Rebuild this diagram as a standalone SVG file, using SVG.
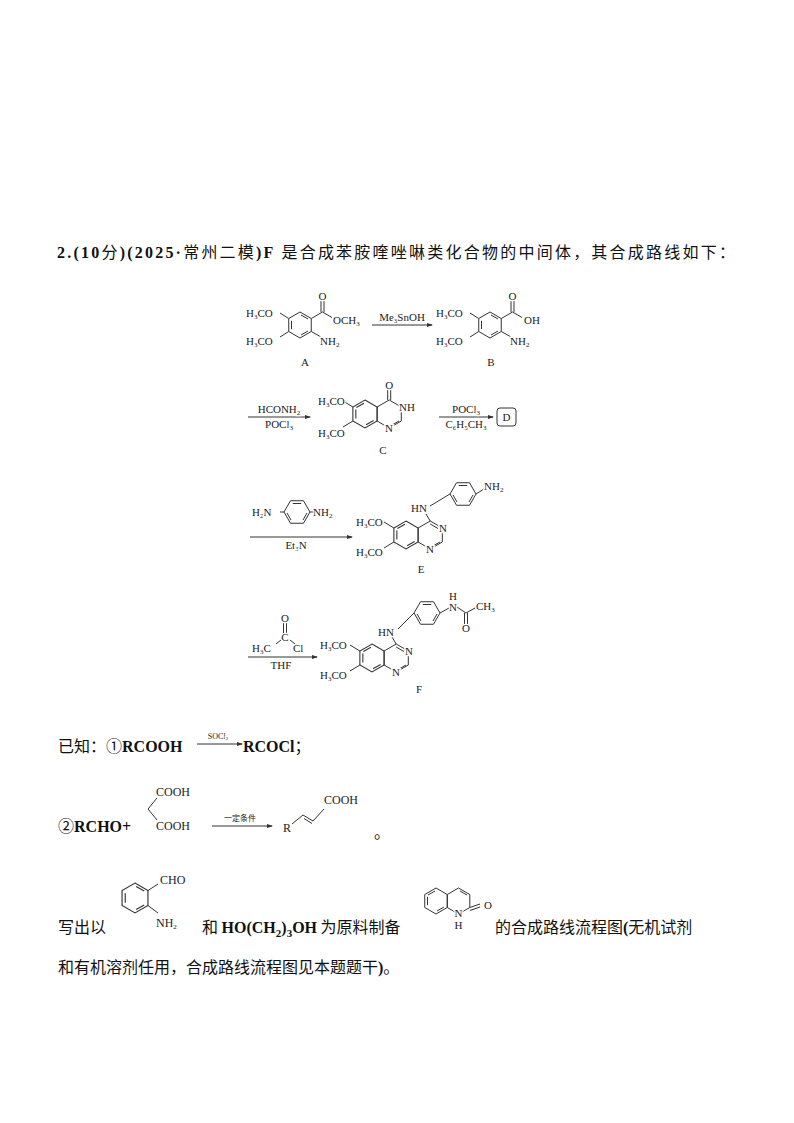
<svg xmlns="http://www.w3.org/2000/svg" xmlns:xlink="http://www.w3.org/1999/xlink" width="794" height="1123" viewBox="0 0 794 1123">
<style>
.s{font-family:"Liberation Serif","Noto Sans CJK SC",serif;font-size:11px;fill:#222;stroke:#fff;stroke-width:2.5px;paint-order:stroke}
.m{font-family:"Liberation Serif","Noto Sans CJK SC",serif;font-size:16px;fill:#111}
.b{font-weight:bold}
.c{font-family:"Noto Sans CJK SC",sans-serif}
.sub{font-size:7px}
line,polyline,polygon{stroke:#333;stroke-width:1;fill:none}
</style>
<defs>
<marker id="ar" markerWidth="6" markerHeight="4" refX="5" refY="2" orient="auto" markerUnits="userSpaceOnUse"><path d="M0,0 L6,2 L0,4z" fill="#333"/></marker>
<g id="ring"><polygon points="0,-13 11.26,-6.5 11.26,6.5 0,13 -11.26,6.5 -11.26,-6.5"/><line x1="-8.5" y1="-4.2" x2="-8.5" y2="4.2"/><line x1="1" y1="-10" x2="8" y2="-6"/><line x1="8" y1="6" x2="1" y2="10"/></g>
<g id="ringL"><polygon points="0,-13 11.26,-6.5 11.26,6.5 0,13 -11.26,6.5 -11.26,-6.5"/><line x1="-8.5" y1="-4.2" x2="-8.5" y2="4.2"/><line x1="-1" y1="-10" x2="-8" y2="-6"/><line x1="8" y1="6" x2="1" y2="10"/></g>
</defs>
<text class="m" x="57" y="258" textLength="678"><tspan class="b">2.(10</tspan><tspan class="c">分</tspan><tspan class="b">)(2025·</tspan><tspan class="c">常州二模</tspan><tspan class="b">)F</tspan><tspan class="c"> 是合成苯胺喹唑啉类化合物的中间体，其合成路线如下：</tspan></text>

<g id="A">
<use xlink:href="#ring" transform="translate(300,325)"/>
<polyline points="311.3,318.5 322.5,312 332,317.5"/><line x1="321" y1="312" x2="321" y2="301"/><line x1="324" y1="312" x2="324" y2="301"/>
<line x1="311.3" y1="331.5" x2="321" y2="337"/><line x1="288.7" y1="318.5" x2="280" y2="313"/><line x1="288.7" y1="331.5" x2="280" y2="337"/>
<text class="s" x="322.5" y="300" text-anchor="middle">O</text>
<text class="s" x="333" y="324">OCH<tspan class="sub" dy="2">3</tspan></text>
<text class="s" x="320" y="345">NH<tspan class="sub" dy="2">2</tspan></text>
<text class="s" x="246" y="317">H<tspan class="sub" dy="2">3</tspan><tspan dy="-2">CO</tspan></text>
<text class="s" x="246" y="345">H<tspan class="sub" dy="2">3</tspan><tspan dy="-2">CO</tspan></text>
<text class="s" x="305" y="366" text-anchor="middle">A</text>
</g>
<g id="B">
<use xlink:href="#ring" transform="translate(490,325)"/>
<polyline points="501.3,318.5 512.5,312 522,317.5"/><line x1="511" y1="312" x2="511" y2="301"/><line x1="514" y1="312" x2="514" y2="301"/>
<line x1="501.3" y1="331.5" x2="511" y2="337"/><line x1="478.7" y1="318.5" x2="470" y2="313"/><line x1="478.7" y1="331.5" x2="470" y2="337"/>
<text class="s" x="512.5" y="300" text-anchor="middle">O</text>
<text class="s" x="524" y="324">OH</text>
<text class="s" x="510" y="345">NH<tspan class="sub" dy="2">2</tspan></text>
<text class="s" x="436" y="317">H<tspan class="sub" dy="2">3</tspan><tspan dy="-2">CO</tspan></text>
<text class="s" x="436" y="345">H<tspan class="sub" dy="2">3</tspan><tspan dy="-2">CO</tspan></text>
<text class="s" x="491" y="366" text-anchor="middle">B</text>
</g>
<g id="C">
<use xlink:href="#ringL" transform="translate(365,414) scale(1.077)"/>
<polygon points="389.2,400 401.3,407 401.3,421 389.2,428 377.1,421 377.1,407"/><line x1="392" y1="425" x2="399" y2="421"/>
<line x1="387.7" y1="400" x2="387.7" y2="389"/><line x1="390.7" y1="400" x2="390.7" y2="389"/>
<line x1="352.9" y1="407" x2="343" y2="401"/><line x1="352.9" y1="421" x2="343" y2="427"/>
<text class="s" x="389.2" y="389" text-anchor="middle">O</text>
<text class="s" x="399" y="411">NH</text>
<text class="s" x="389" y="432" text-anchor="middle">N</text>
<text class="s" x="318" y="405">H<tspan class="sub" dy="2">3</tspan><tspan dy="-2">CO</tspan></text>
<text class="s" x="318" y="437">H<tspan class="sub" dy="2">3</tspan><tspan dy="-2">CO</tspan></text>
<text class="s" x="383" y="454" text-anchor="middle">C</text>
</g>
<g id="D"><rect x="497" y="408" width="19" height="18" rx="3" fill="none" stroke="#333"/><text class="s" x="506.5" y="421" text-anchor="middle">D</text></g>
<g id="diamine">
<use xlink:href="#ring" transform="translate(297,512) rotate(90)"/>
<line x1="284" y1="512" x2="280" y2="512"/><line x1="310" y1="512" x2="314" y2="512"/>
<text class="s" x="252" y="516">H<tspan class="sub" dy="2">2</tspan><tspan dy="-2">N</tspan></text>
<text class="s" x="313" y="516">NH<tspan class="sub" dy="2">2</tspan></text>
</g>
<g id="E">
<use xlink:href="#ringL" transform="translate(406,535) scale(1.077)"/>
<polygon points="430.2,521 442.3,528 442.3,542 430.2,549 418.1,542 418.1,528"/><line x1="433" y1="546" x2="440" y2="542"/><line x1="430.2" y1="524" x2="438" y2="528.5"/>
<line x1="430.2" y1="521" x2="426" y2="514"/><line x1="430" y1="506" x2="450" y2="494"/>
<use xlink:href="#ring" transform="translate(463,494) rotate(90)"/>
<line x1="476" y1="494" x2="484" y2="489"/>
<line x1="393.9" y1="528" x2="384" y2="522"/><line x1="393.9" y1="542" x2="384" y2="548"/>
<text class="s" x="411" y="512">HN</text>
<text class="s" x="484" y="490">NH<tspan class="sub" dy="2">2</tspan></text>
<text class="s" x="443" y="532" text-anchor="middle">N</text>
<text class="s" x="430" y="553" text-anchor="middle">N</text>
<text class="s" x="356" y="526">H<tspan class="sub" dy="2">3</tspan><tspan dy="-2">CO</tspan></text>
<text class="s" x="356" y="556">H<tspan class="sub" dy="2">3</tspan><tspan dy="-2">CO</tspan></text>
<text class="s" x="421" y="573" text-anchor="middle">E</text>
</g>
<g id="acCl">
<line x1="283.5" y1="633" x2="283.5" y2="622"/><line x1="286.5" y1="633" x2="286.5" y2="622"/>
<line x1="281" y1="640" x2="276" y2="644"/><line x1="290" y1="640" x2="295" y2="644"/>
<text class="s" x="285" y="622" text-anchor="middle">O</text>
<text class="s" x="285" y="641" text-anchor="middle">C</text>
<text class="s" x="252" y="652">H<tspan class="sub" dy="2">3</tspan><tspan dy="-2">C</tspan></text>
<text class="s" x="293" y="652">Cl</text>
</g>
<g id="F">
<use xlink:href="#ringL" transform="translate(372,658) scale(1.077)"/>
<polygon points="396.2,644 408.3,651 408.3,665 396.2,672 384.1,665 384.1,651"/><line x1="399" y1="669" x2="406" y2="665"/><line x1="396.2" y1="647" x2="404" y2="651.5"/>
<line x1="396.2" y1="644" x2="392" y2="637"/><line x1="398" y1="629" x2="414" y2="613"/>
<use xlink:href="#ring" transform="translate(427,613) rotate(90)"/>
<line x1="440" y1="613" x2="449" y2="608"/><polyline points="457,607 466,613 475,608"/>
<line x1="464.5" y1="613" x2="464.5" y2="624"/><line x1="467.5" y1="613" x2="467.5" y2="624"/>
<line x1="359.9" y1="651" x2="350" y2="645"/><line x1="359.9" y1="665" x2="350" y2="671"/>
<text class="s" x="378" y="636">HN</text>
<text class="s" x="453" y="611" text-anchor="middle">N</text>
<text class="s" x="453" y="600" text-anchor="middle">H</text>
<text class="s" x="476" y="610">CH<tspan class="sub" dy="2">3</tspan></text>
<text class="s" x="466" y="632" text-anchor="middle">O</text>
<text class="s" x="409" y="655" text-anchor="middle">N</text>
<text class="s" x="396" y="676" text-anchor="middle">N</text>
<text class="s" x="320" y="649">H<tspan class="sub" dy="2">3</tspan><tspan dy="-2">CO</tspan></text>
<text class="s" x="320" y="679">H<tspan class="sub" dy="2">3</tspan><tspan dy="-2">CO</tspan></text>
<text class="s" x="419" y="693" text-anchor="middle">F</text>
</g>

<g id="connectors">
<line x1="372" y1="325" x2="432" y2="325" marker-end="url(#ar)"/>
<line x1="248" y1="417" x2="310" y2="417" marker-end="url(#ar)"/>
<line x1="439" y1="417" x2="493" y2="417" marker-end="url(#ar)"/>
<line x1="250" y1="537" x2="352" y2="537" marker-end="url(#ar)"/>
<line x1="248" y1="657" x2="317" y2="657" marker-end="url(#ar)"/>
<line x1="197" y1="744" x2="242" y2="744" marker-end="url(#ar)"/>
<line x1="212" y1="826" x2="272" y2="826" marker-end="url(#ar)"/>
</g>
<g id="labels">
<text class="s" x="402" y="321" text-anchor="middle">Me<tspan class="sub" dy="2">3</tspan><tspan dy="-2">SnOH</tspan></text>
<text class="s" x="279" y="413" text-anchor="middle">HCONH<tspan class="sub" dy="2">2</tspan></text>
<text class="s" x="279" y="428" text-anchor="middle">POCl<tspan class="sub" dy="2">3</tspan></text>
<text class="s" x="466" y="413" text-anchor="middle">POCl<tspan class="sub" dy="2">3</tspan></text>
<text class="s" x="466" y="428" text-anchor="middle">C<tspan class="sub" dy="2">6</tspan><tspan dy="-2">H</tspan><tspan class="sub" dy="2">5</tspan><tspan dy="-2">CH</tspan><tspan class="sub" dy="2">3</tspan></text>
<text class="s" x="296" y="549" text-anchor="middle">Et<tspan class="sub" dy="2">3</tspan><tspan dy="-2">N</tspan></text>
<text class="s" x="281" y="669" text-anchor="middle">THF</text>
</g>

<g id="known">
<text class="m" x="58" y="752"><tspan class="c">已知：①</tspan><tspan class="b">RCOOH</tspan></text>
<text class="s" x="218" y="739" text-anchor="middle" style="font-size:8px">SOCl<tspan class="sub" dy="1" style="font-size:5px">2</tspan></text>
<text class="m b" x="243" y="752">RCOCl<tspan class="c" style="font-weight:normal">；</tspan></text>
<text class="m" x="58" y="832"><tspan class="c">②</tspan><tspan class="b">RCHO+</tspan></text>
<polyline points="157,798 148,809 157,820"/>
<text class="s" x="156" y="796" style="font-size:12px">COOH</text>
<text class="s" x="156" y="830" style="font-size:12px">COOH</text>
<text class="s" x="240" y="821" text-anchor="middle" style="font-family:'Noto Sans CJK SC',sans-serif;font-size:8px">一定条件</text>
<text class="s" x="283" y="832" style="font-size:12px">R</text>
<polyline points="292,824 303,815 313,821 324,809"/><line x1="304" y1="818.5" x2="312" y2="823.5"/>
<text class="s" x="324" y="804" style="font-size:12px">COOH</text>
<text class="m c" x="374" y="838">。</text>
</g>
<g id="last">
<text class="m" x="58" y="933"><tspan class="c">写出以</tspan></text>
<use xlink:href="#ring" transform="translate(135,898) scale(1.15)"/>
<line x1="148" y1="890.5" x2="158" y2="884"/><line x1="148" y1="905.5" x2="158" y2="913"/>
<text class="s" x="160" y="884" style="font-size:12px">CHO</text>
<text class="s" x="156" y="927" style="font-size:12px">NH<tspan class="sub" dy="2">2</tspan></text>
<text class="m" x="202" y="933"><tspan class="c">和 </tspan><tspan class="b">HO(CH</tspan><tspan class="b" style="font-size:11px" dy="4">2</tspan><tspan class="b" dy="-4">)</tspan><tspan class="b" style="font-size:11px" dy="4">3</tspan><tspan class="b" dy="-4">OH</tspan><tspan class="c"> 为原料制备</tspan></text>
<use xlink:href="#ringL" transform="translate(436,901)"/>
<polygon points="458.5,888 469.8,894.5 469.8,907.5 458.5,914 447.3,907.5 447.3,894.5"/><line x1="460" y1="891" x2="467" y2="895"/>
<line x1="469.8" y1="907.5" x2="480" y2="904"/><line x1="469.8" y1="910.5" x2="480" y2="907"/>
<text class="s" x="458.5" y="917" text-anchor="middle">N</text>
<text class="s" x="458.5" y="929" text-anchor="middle">H</text>
<text class="s" x="484" y="909">O</text>
<text class="m c" x="495" y="933">的合成路线流程图<tspan class="b" style="font-family:'Liberation Serif'">(</tspan>无机试剂</text>
<text class="m c" x="58" y="973">和有机溶剂任用，合成路线流程图见本题题干<tspan class="b" style="font-family:'Liberation Serif'">)</tspan>。</text>
</g>
</svg>
